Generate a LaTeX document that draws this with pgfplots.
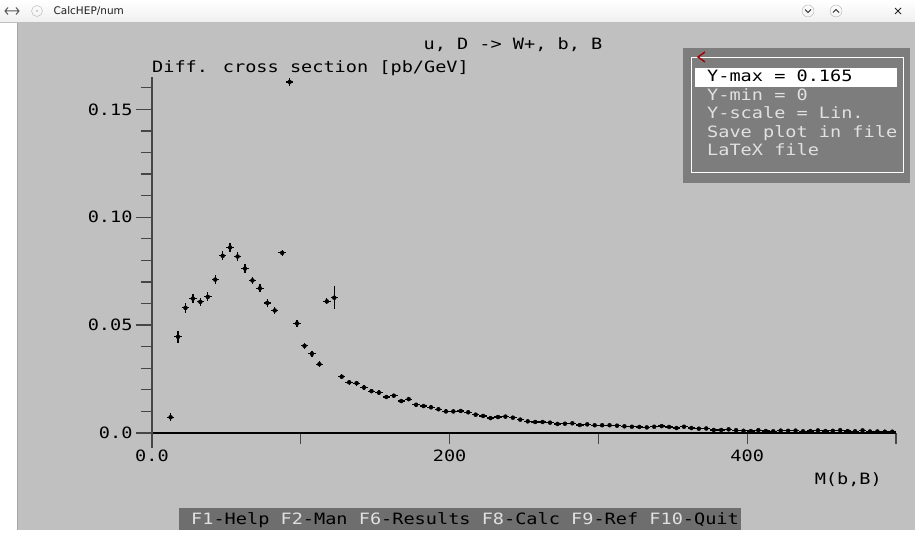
\documentclass[border=0pt]{standalone}
\usepackage{fontspec}
\setmainfont{DejaVu Sans}
\newfontfamily\scr[FakeStretch=1.19]{DejaVu Sans Mono}
\usepackage{pgfplots}
\pgfplotsset{compat=1.18}

\definecolor{bodygrey}{RGB}{192,192,192}
\definecolor{panelgrey}{RGB}{125,125,125}
\definecolor{bargrey}{RGB}{110,110,110}
\definecolor{axisgrey}{RGB}{70,70,70}
\definecolor{menutext}{RGB}{225,225,225}
\newcommand{\scrfont}{\scr\fontsize{15.6}{17}\selectfont}

% bin centre, value [pb/GeV], statistical error
\pgfplotstableread{
x y ey
12.5 0.0073 0.0019
17.5 0.0446 0.0027
22.5 0.0580 0.0022
27.5 0.0623 0.0022
32.5 0.0608 0.0020
37.5 0.0631 0.0021
42.5 0.0711 0.0019
47.5 0.0821 0.0021
52.5 0.0860 0.0020
57.5 0.0818 0.0021
62.5 0.0762 0.0019
67.5 0.0707 0.0017
72.5 0.0671 0.0018
77.5 0.0603 0.0019
82.5 0.0568 0.0017
87.5 0.0835 0.0015
92.5 0.1627 0.0020
97.5 0.0508 0.0017
102.5 0.0404 0.0015
107.5 0.0367 0.0014
112.5 0.0319 0.0013
117.5 0.0610 0.0014
122.5 0.0627 0.0052
127.5 0.0261 0.0012
132.5 0.0235 0.0011
137.5 0.0231 0.0011
142.5 0.0211 0.0011
147.5 0.0194 0.0010
152.5 0.0187 0.0010
157.5 0.0167 0.0010
162.5 0.0173 0.0010
167.5 0.0148 0.0009
172.5 0.0157 0.0009
177.5 0.0131 0.0009
182.5 0.0125 0.0009
187.5 0.0119 0.0009
192.5 0.0110 0.0009
197.5 0.0100 0.0009
202.5 0.0100 0.0009
207.5 0.0102 0.0009
212.5 0.0096 0.0009
217.5 0.0085 0.0009
222.5 0.0079 0.0008
227.5 0.0069 0.0008
232.5 0.0074 0.0008
237.5 0.0076 0.0008
242.5 0.0071 0.0008
247.5 0.0062 0.0008
252.5 0.0054 0.0008
257.5 0.0051 0.0007
262.5 0.0051 0.0007
267.5 0.0048 0.0007
272.5 0.0042 0.0007
277.5 0.0043 0.0007
282.5 0.0045 0.0007
287.5 0.0037 0.0007
292.5 0.0040 0.0007
297.5 0.0036 0.0007
302.5 0.0036 0.0006
307.5 0.0036 0.0006
312.5 0.0034 0.0006
317.5 0.0031 0.0006
322.5 0.0029 0.0006
327.5 0.0028 0.0006
332.5 0.0026 0.0006
337.5 0.0029 0.0006
342.5 0.0032 0.0006
347.5 0.0028 0.0006
352.5 0.0023 0.0005
357.5 0.0029 0.0005
362.5 0.0023 0.0005
367.5 0.0020 0.0005
372.5 0.0021 0.0005
377.5 0.0014 0.0005
382.5 0.0014 0.0005
387.5 0.0017 0.0005
392.5 0.0013 0.0004
397.5 0.0010 0.0004
402.5 0.0009 0.0004
407.5 0.0013 0.0004
412.5 0.0009 0.0004
417.5 0.0008 0.0004
422.5 0.0011 0.0004
427.5 0.0010 0.0004
432.5 0.0011 0.0004
437.5 0.0008 0.0004
442.5 0.0009 0.0004
447.5 0.0012 0.0004
452.5 0.0009 0.0004
457.5 0.0010 0.0004
462.5 0.0013 0.0004
467.5 0.0009 0.0004
472.5 0.0008 0.0004
477.5 0.0012 0.0004
482.5 0.0007 0.0003
487.5 0.0007 0.0003
492.5 0.0006 0.0003
497.5 0.0006 0.0003
}\xsec

\begin{document}
\begin{tikzpicture}
\begin{scope}[x=1pt,y=1pt]
\path[use as bounding box] (0,0) rectangle (915,533);
\fill[white] (0,0) rectangle (915,533);
% window body
\fill[bodygrey] (17,3) rectangle (915,511);
\draw[gray!70, line width=0.8pt] (17,3) -- (17,511);

% title bar
\shade[top color=white, bottom color=gray!12] (0,511) rectangle (915,533);
\draw[gray!50] (0,511) -- (915,511);
\draw[gray!70!black, line width=1pt] (5,522) -- (19,522) (8,518.5) -- (5,522) -- (8,525.5) (16,518.5) -- (19,522) -- (16,525.5);
\draw[gray!60] (37,522) circle (5.5);
\fill[gray!60] (37,522) circle (1);
\node[anchor=west, text=gray!25!black, font=\fontsize{10.5}{12}\selectfont] at (50,522) {CalcHEP/num};
\draw[gray!60] (808,522) circle (6) (836,522) circle (6);
\draw[gray!30!black, line width=0.8pt] (805,523.5) -- (808,520.5) -- (811,523.5);
\draw[gray!30!black, line width=0.8pt] (833,520.5) -- (836,523.5) -- (839,520.5);
\draw[gray!30!black, line width=1pt] (895,519) -- (901,525) (895,525) -- (901,519);

% headings
\node[anchor=base, font=\scrfont] at (513,483) {u, D -> W+, b, B};
\node[anchor=base west, font=\scrfont, inner sep=0pt] at (152,460) {Diff. cross section [pb/GeV]};
\node[anchor=base east, font=\scrfont, inner sep=0pt] at (882,49) {M(b,B)};
\end{scope}

\begin{axis}[
  at={(152pt,100pt)}, anchor=south west,
  scale only axis, width=744pt, height=356pt,
  xmin=0, xmax=500, ymin=0, ymax=0.165,
  clip=false,
  axis x line*=bottom, axis y line*=left,
  x axis line style={black, line width=1.3pt},
  y axis line style={axisgrey, line width=1.8pt},
  xtick={0,200,400}, xticklabels={0.0,200,400},
  minor xtick={100,200,300,400,500},
  ytick={0,0.05,0.1,0.15}, yticklabels={0.0,0.05,0.10,0.15},
  minor ytick={0.01,0.02,0.03,0.04,0.06,0.07,0.08,0.09,0.11,0.12,0.13,0.14,0.16},
  tick align=outside,
  major tick length=16pt, minor tick length=11pt,
  major x tick style={draw=none},
  tick style={axisgrey, line width=1.3pt},
  ticklabel style={font=\scrfont, text=black},
  xticklabel style={yshift=3pt},
]
\addplot[only marks, mark=none, black,
  error bars/.cd, x dir=both, x fixed=2.5, y dir=both, y explicit,
  error mark=none, error bar style={black, line width=1.25pt}]
  table[x=x, y=y, y error=ey] {\xsec};
\draw[axisgrey, line width=1.8pt] (axis cs:0,0) -- ++(0pt,-15pt);
\end{axis}

\begin{scope}[x=1pt,y=1pt]
% settings menu
\fill[panelgrey] (683,350) rectangle (910,485);
\draw[white, line width=1pt] (691,360) rectangle (903,475);
\fill[white] (695,446) rectangle (897,465);
\draw[red!65!black, line width=1.4pt] (705,481) -- (698,476) -- (705,471);
\node[anchor=base west, inner sep=0pt, font=\scrfont, text=black] at (707,451) {Y-max = 0.165};
\node[anchor=base west, inner sep=0pt, font=\scrfont, text=menutext] at (707,432.5) {Y-min = 0};
\node[anchor=base west, inner sep=0pt, font=\scrfont, text=menutext] at (707,414) {Y-scale = Lin.};
\node[anchor=base west, inner sep=0pt, font=\scrfont, text=menutext] at (707,395.5) {Save plot in file};
\node[anchor=base west, inner sep=0pt, font=\scrfont, text=menutext] at (707,377) {LaTeX file};

% function key bar
\fill[bargrey] (179,3) rectangle (741,25);
\node[anchor=base west, inner sep=0pt, font=\scrfont, text=black] at (191,9)
  {\textcolor{menutext}{F1}-Help \textcolor{menutext}{F2}-Man \textcolor{menutext}{F6}-Results \textcolor{menutext}{F8}-Calc \textcolor{menutext}{F9}-Ref \textcolor{menutext}{F10}-Quit};
\end{scope}
\end{tikzpicture}
\end{document}
